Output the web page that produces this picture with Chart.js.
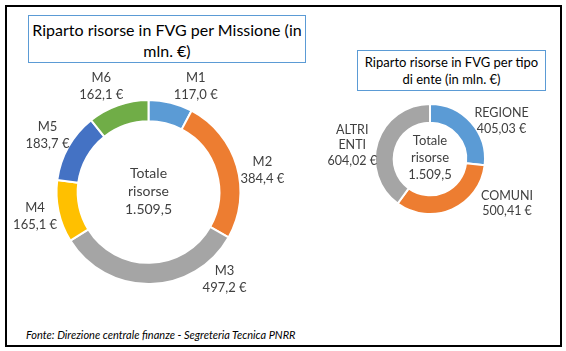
<!DOCTYPE html>
<html><head><meta charset="utf-8">
<script src="https://cdn.jsdelivr.net/npm/chart.js@4"></script>
<style>
html,body{margin:0;padding:0;background:#fff;}
#wrap{position:relative;width:566px;height:351px;overflow:hidden;font-family:Lato,"Open Sans",sans-serif;}
#frame{position:absolute;left:5px;top:5px;width:553px;height:338px;border:2px solid #000;}
.tbox{position:absolute;border:1px solid #5B9BD5;text-align:center;color:#000;box-sizing:border-box;}
#t1{left:28px;top:15px;width:278px;height:48px;font-size:16px;line-height:21px;padding-top:3px;}
#t2{left:357px;top:50px;width:189px;height:41px;font-size:13px;line-height:17px;padding-top:3px;}
#foot{position:absolute;left:26px;top:328px;font-size:11px;font-style:italic;color:#000;}
#c1w{position:absolute;left:3px;top:67px;width:291px;height:250px;}
#c2w{position:absolute;left:320px;top:79px;width:220px;height:160px;}
</style></head><body>
<div id="wrap">
<div id="frame"></div>
<div class="tbox" id="t1">Riparto risorse in FVG per Missione (in<br>mln. €)</div>
<div class="tbox" id="t2">Riparto risorse in FVG per tipo<br>di ente (in mln. €)</div>
<div id="c1w"><canvas id="c1"></canvas></div>
<div id="c2w"><canvas id="c2"></canvas></div>
<div id="foot">Fonte: Direzione centrale finanze - Segreteria Tecnica PNRR</div>
</div>
<script>
// Data
const missionLabels = ["M1", "M2", "M3", "M4", "M5", "M6"];
const missionValues = [117.0, 384.4, 497.2, 165.1, 183.7, 162.1];
const missionColors = ["#5B9BD5", "#ED7D31", "#A5A5A5", "#FFC000", "#4472C4", "#70AD47"];

const enteLabels = [["REGIONE"], ["COMUNI"], ["ALTRI", "ENTI"]];
const enteValues = [405.03, 500.41, 604.02];
const enteColors = ["#5B9BD5", "#ED7D31", "#A5A5A5"];

const centerLines = ["Totale", "risorse"];

function fmt(v, d) {
  return v.toLocaleString('it-IT', {minimumFractionDigits: d, maximumFractionDigits: d});
}

const outLabels = {
  id: 'outLabels',
  afterDatasetsDraw(chart, args, opts) {
    const ctx = chart.ctx;
    const meta = chart.getDatasetMeta(0);
    const ds = chart.data.datasets[0];
    ctx.save();
    ctx.font = opts.font;
    ctx.fillStyle = opts.color;
    ctx.textAlign = 'center';
    ctx.textBaseline = 'middle';
    meta.data.forEach((arc, i) => {
      const p = arc.getProps(['x', 'y', 'startAngle', 'endAngle']);
      let ang = (p.startAngle + p.endAngle) / 2;
      if (opts.angles && opts.angles[i] != null) ang = opts.angles[i] * Math.PI / 180 - Math.PI / 2;
      const dist = (opts.dists && opts.dists[i] != null) ? opts.dists[i] : opts.dist;
      const cx = p.x + Math.cos(ang) * dist;
      const cy = p.y + Math.sin(ang) * dist;
      let lines = [].concat(chart.data.labels[i]);
      lines = lines.concat([fmt(ds.data[i], opts.decimals) + ' €']);
      const n = lines.length;
      lines.forEach((t, k) => {
        ctx.fillText(t, cx, cy + (k - (n - 1) / 2) * opts.lineHeight);
      });
    });
    // center text
    const a0 = meta.data[0];
    const total = ds.data.reduce((s, v) => s + v, 0);
    const cl = centerLines.concat([fmt(total, 1)]);
    ctx.font = opts.centerFont;
    cl.forEach((t, k) => {
      ctx.fillText(t, a0.x, a0.y + (k - 1) * opts.centerLineHeight - 1);
    });
    ctx.restore();
  }
};

const common = {
  responsive: true,
  maintainAspectRatio: false,
  animation: false,
  events: [],
  layout: {padding: 0},
};

new Chart(document.getElementById('c1'), {
  type: 'doughnut',
  data: {
    labels: missionLabels,
    datasets: [{data: missionValues, backgroundColor: missionColors, borderColor: '#fff', borderWidth: 2, hoverOffset: 0}]
  },
  options: Object.assign({}, common, {
    radius: 92,
    cutout: '77%',
    plugins: {
      legend: {display: false}, tooltip: {enabled: false},
      outLabels: {font: '13px Lato, "Open Sans", sans-serif', color: '#404040', dist: 116, lineHeight: 17, decimals: 1,
        angles: [24, 79, 139, null, null, 336],
        centerFont: '14px Lato, "Open Sans", sans-serif', centerLineHeight: 18}
    }
  }),
  plugins: [outLabels]
});

new Chart(document.getElementById('c2'), {
  type: 'doughnut',
  data: {
    labels: enteLabels,
    datasets: [{data: enteValues, backgroundColor: enteColors, borderColor: '#fff', borderWidth: 2, hoverOffset: 0}]
  },
  options: Object.assign({}, common, {
    radius: 55,
    cutout: '66%',
    plugins: {
      legend: {display: false}, tooltip: {enabled: false},
      outLabels: {font: '12.5px Lato, "Open Sans", sans-serif', color: '#404040', dist: 80, lineHeight: 15.5, decimals: 2,
        angles: [62, 120, 280], dists: [81, 89, 79],
        centerFont: '13px Lato, "Open Sans", sans-serif', centerLineHeight: 17}
    }
  }),
  plugins: [outLabels]
});
</script>
</body></html>
